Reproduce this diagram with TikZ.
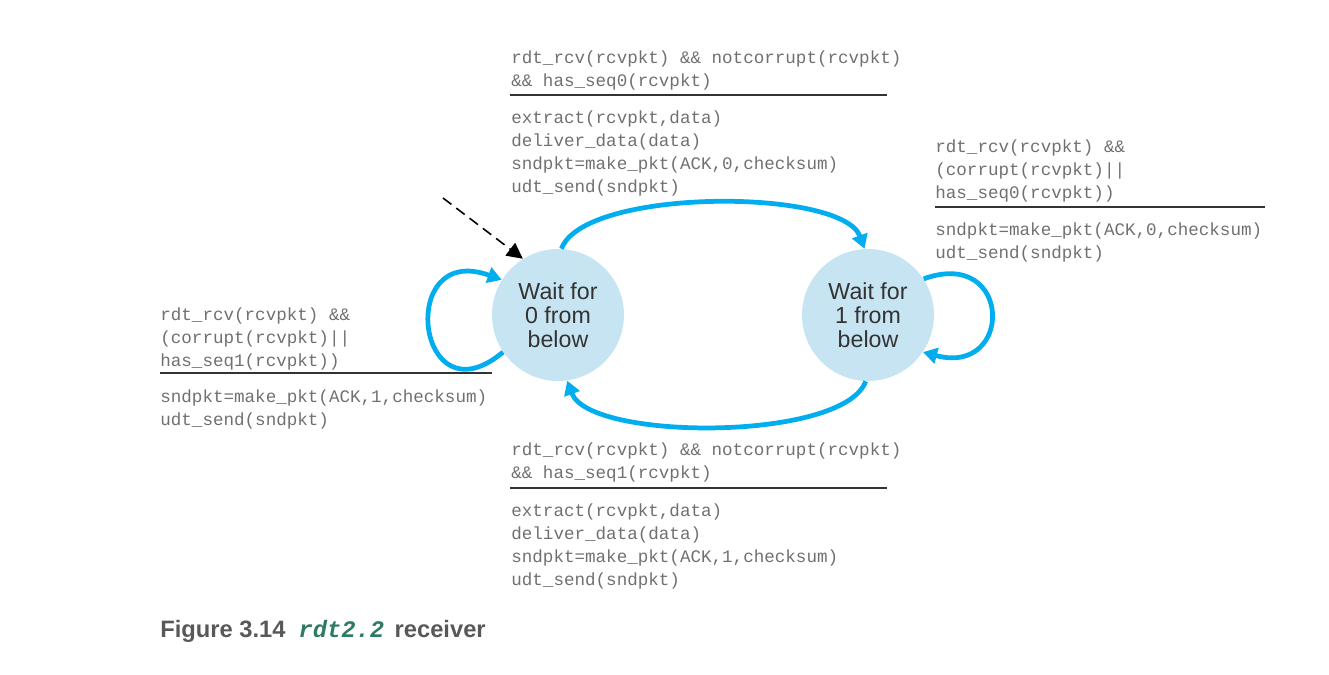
\documentclass[tikz,border=0pt]{standalone}
\usepackage{fontspec}
\setmainfont{Liberation Sans}
\setmonofont{Liberation Mono}
\usetikzlibrary{arrows.meta}
\definecolor{fsmblue}{HTML}{00AEEF}
\definecolor{statefill}{HTML}{C6E4F1}
\definecolor{codegray}{HTML}{707070}
\definecolor{figgray}{HTML}{585858}
\definecolor{figgreen}{HTML}{2E7A66}
\newcommand{\codefont}{\fontsize{10}{13.1}\selectfont\ttfamily}

\begin{document}
\begin{tikzpicture}[
		x=0.02cm, y=-0.02cm,
		state/.style = {circle, fill=statefill, minimum size=2.64cm, inner sep=0pt, align=center, text=black!80, font=\fontsize{13.2}{13.6}\selectfont},
		code/.style = {anchor=north west, inner sep=0pt, align=left, text=codegray, font=\codefont},
		trans/.style = {draw=fsmblue, line width=2.7pt, -{Triangle[length=8pt, width=9pt]}},
		guard/.style = {draw=black!80, line width=0.8pt}
	]
	\useasboundingbox (0,0) rectangle (1329,674);
	\node[state] (w0) at (558,315) {Wait for\\0 from\\below};
	\node[state] (w1) at (868,315) {Wait for\\1 from\\below};
	\coordinate (init) at (443,198);
	% top transition
	\node[code] (c01) at (511,50) {rdt\_rcv(rcvpkt) \&\& notcorrupt(rcvpkt)\\\&\& has\_seq0(rcvpkt)};
	\draw[guard] (510,95) -- (887,95);
	\node[code] (a01) at (511,110) {extract(rcvpkt,data)\\deliver\_data(data)\\sndpkt=make\_pkt(ACK,0,checksum)\\udt\_send(sndpkt)};
	% right self loop
	\node[code] (c11) at (935,139) {rdt\_rcv(rcvpkt) \&\&\\(corrupt(rcvpkt)||\\has\_seq0(rcvpkt))};
	\draw[guard] (935,207) -- (1265,207);
	\node[code] (a11) at (935,222) {sndpkt=make\_pkt(ACK,0,checksum)\\udt\_send(sndpkt)};
	% left self loop
	\node[code] (c00) at (160,307) {rdt\_rcv(rcvpkt) \&\&\\(corrupt(rcvpkt)||\\has\_seq1(rcvpkt))};
	\draw[guard] (160,373) -- (492,373);
	\node[code] (a00) at (160,389) {sndpkt=make\_pkt(ACK,1,checksum)\\udt\_send(sndpkt)};
	% bottom transition
	\node[code] (c10) at (511,442) {rdt\_rcv(rcvpkt) \&\& notcorrupt(rcvpkt)\\\&\& has\_seq1(rcvpkt)};
	\draw[guard] (510,488) -- (887,488);
	\node[code] (a10) at (511,503) {extract(rcvpkt,data)\\deliver\_data(data)\\sndpkt=make\_pkt(ACK,1,checksum)\\udt\_send(sndpkt)};
	% caption
	\node[anchor=base west, inner sep=0pt, text=figgray, font=\fontsize{13.5}{16}\selectfont\bfseries] (cap) at (160,637)
		{Figure 3.14\hspace{0.55em}\textcolor{figgreen}{\ttfamily\itshape rdt2.2}\hspace{0.45em}receiver};
	\draw[line width=0.9pt, dash pattern=on 6pt off 3.5pt, -{Triangle[length=9pt, width=9pt]}] (init) -- (w0.122);
	\draw[trans] (w0.87) to [out=70, in=110, looseness=0.55] (w1.93);
	\draw[trans] (w1.-92) to [out=-110, in=-70, looseness=0.55] (w0.-82);
	\draw[trans] (w0.214) to [out=220, in=160, looseness=4] (w0.148);
	\draw[trans] (w1.33) to [out=20, in=-15, looseness=3.3] (w1.-34);
\end{tikzpicture}
\end{document}
